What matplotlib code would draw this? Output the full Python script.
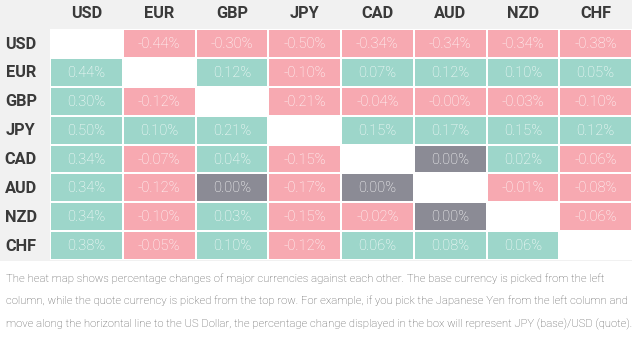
import numpy as np
import matplotlib
matplotlib.use("Agg")
from matplotlib import pyplot as plt
from matplotlib.colors import ListedColormap
from matplotlib.patches import Rectangle

plt.rcParams['font.family'] = ['Roboto', 'DejaVu Sans']

currencies = ['USD', 'EUR', 'GBP', 'JPY', 'CAD', 'AUD', 'NZD', 'CHF']
# row = base currency, column = quote currency; nan on the diagonal
changes = [
    [np.nan, -0.44, -0.30, -0.50, -0.34, -0.34, -0.34, -0.38],
    [0.44, np.nan, 0.12, -0.10, 0.07, 0.12, 0.10, 0.05],
    [0.30, -0.12, np.nan, -0.21, -0.04, -0.00, -0.03, -0.10],
    [0.50, 0.10, 0.21, np.nan, 0.15, 0.17, 0.15, 0.12],
    [0.34, -0.07, 0.04, -0.15, np.nan, 0.00, 0.02, -0.06],
    [0.34, -0.12, 0.00, -0.17, 0.00, np.nan, -0.01, -0.08],
    [0.34, -0.10, 0.03, -0.15, -0.02, 0.00, np.nan, -0.06],
    [0.38, -0.05, 0.10, -0.12, 0.06, 0.08, 0.06, np.nan],
]
caption = ("The heat map shows percentage changes of major currencies against each other. The base currency is picked from the left\n"
           "column, while the quote currency is picked from the top row. For example, if you pick the Japanese Yen from the left column and\n"
           "move along the horizontal line to the US Dollar, the percentage change displayed in the box will represent JPY (base)/USD (quote).")

vals = np.array(changes)
# 0 = unchanged (grey), 1 = up (green), 2 = down (pink), 3 = diagonal (white)
codes = np.where(np.isnan(vals), 3,
                 np.where(np.signbit(vals), 2, np.where(vals > 0, 1, 0)))
cmap = ListedColormap(['#8b8b95', '#9dd6ca', '#f7a9b1', '#ffffff'])

fig = plt.figure(figsize=(6.32, 3.53), dpi=100)
fig.patch.set_facecolor('white')
# grey panel behind the table
fig.patches.append(Rectangle((0, (353 - 261) / 353), 1, 261 / 353,
                             transform=fig.transFigure, facecolor='#f1f1f1',
                             edgecolor='none', zorder=-5))

ax = fig.add_axes([50 / 632, (353 - 260) / 353, 582 / 632, 231 / 353])
ax.set_zorder(2)
ax.patch.set_alpha(0)
ax.pcolormesh(codes, cmap=cmap, vmin=-0.5, vmax=3.5, edgecolors='white', linewidth=1.2)
ax.set_xlim(0, len(currencies))
ax.set_ylim(len(currencies), 0)
ax.axis('off')

for i in range(len(currencies)):
    for j in range(len(currencies)):
        if np.isnan(vals[i, j]):
            continue
        v = vals[i, j]
        label = ('-' if np.signbit(v) else '') + '%.2f%%' % abs(v)
        ax.text(j + 0.5, i + 0.52, label, ha='center', va='center',
                color='white', fontsize=10.5, fontweight='light')

for k, cur in enumerate(currencies):
    ax.text(k + 0.5, -0.52, cur, ha='center', va='center', color='#3a3a3a',
            fontsize=11.8, fontweight='bold', clip_on=False)
    ax.text(-0.4, k + 0.52, cur, ha='center', va='center', color='#3a3a3a',
            fontsize=11.8, fontweight='bold', clip_on=False)

fig.text(6 / 632, 1 - 273 / 353, caption, ha='left', va='top', color='#555555',
         fontsize=8.1, fontweight='light', linespacing=2.4)

fig.savefig('out.png', dpi=100)
